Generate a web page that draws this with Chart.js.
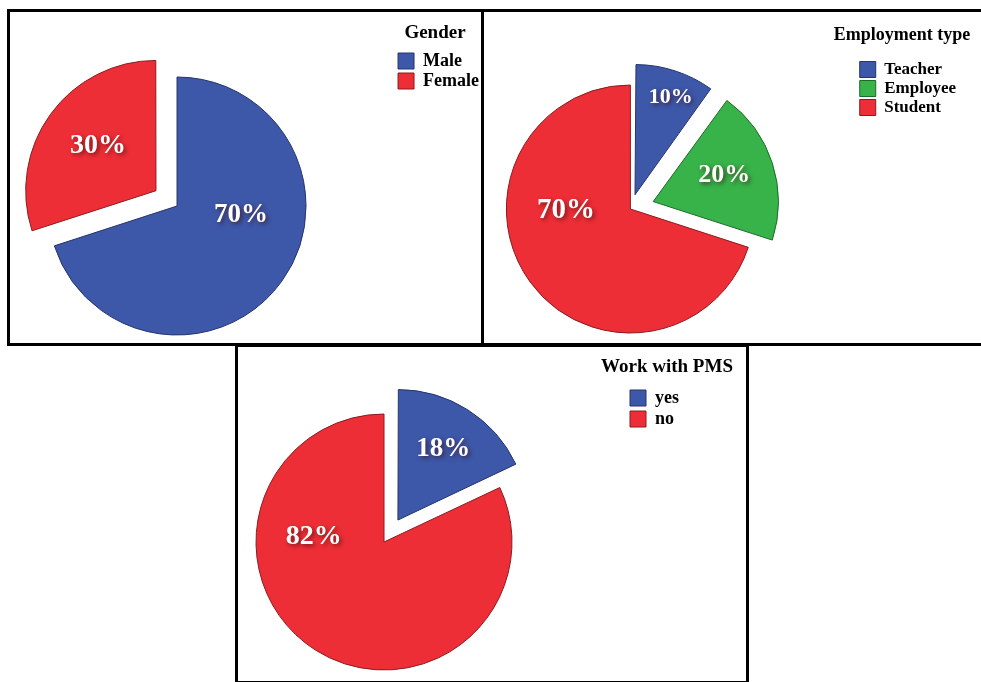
<!DOCTYPE html>
<html>
<head>
<meta charset="utf-8">
<script src="https://cdn.jsdelivr.net/npm/chart.js@4.4.1/dist/chart.umd.min.js"></script>
<style>
  html, body { margin: 0; padding: 0; background: #fff; width: 981px; height: 682px; overflow: hidden; }
  .panel { position: absolute; border: 3px solid #000; box-sizing: border-box; overflow: hidden; background: #fff; }
  .panel canvas { position: absolute; top: 0; }
  .heading { position: absolute; width: 200px; text-align: center; white-space: nowrap; color: #000;
             font-family: "Liberation Serif", "Times New Roman", serif; font-weight: bold; }
</style>
</head>
<body>
<div class="panel" style="left:7px;top:9px;width:477px;height:337px"><canvas id="gender" width="531" height="350" style="left:-52px"></canvas></div>
<div class="panel" style="left:481px;top:9px;width:503px;height:337px"><canvas id="employment" width="563" height="347" style="left:-81px"></canvas></div>
<div class="panel" style="left:235px;top:344px;width:514px;height:340px"><canvas id="pms" width="548" height="351" style="left:-97px"></canvas></div>
<div class="heading" style="left:335px;top:21px;font-size:19px;line-height:22px">Gender</div>
<div class="heading" style="left:802px;top:24px;font-size:18px;line-height:21px">Employment type</div>
<div class="heading" style="left:567px;top:355px;font-size:19px;line-height:22px">Work with PMS</div>
<script>
// values (percent)
const genderLabels = ['Male', 'Female'];
const genderValues = [70, 30];

const employmentLabels = ['Teacher', 'Employee', 'Student'];
const employmentValues = [10, 20, 70];

const pmsLabels = ['yes', 'no'];
const pmsValues = [18, 82];

const BLUE = '#3D57A9', BLUE_EDGE = '#26346A';
const RED = '#EE2E36', RED_EDGE = '#8A1B20';
const GREEN = '#37B34A', GREEN_EDGE = '#1D6A2A';
const SERIF = '"Liberation Serif", "Times New Roman", serif';

// white percent labels with a soft dark shadow, like the SPSS output
const pctLabels = {
  id: 'pctLabels',
  afterDatasetsDraw(chart, args, opts) {
    const ctx = chart.ctx;
    const meta = chart.getDatasetMeta(0);
    const values = chart.data.datasets[0].data;
    const total = values.reduce((a, b) => a + b, 0);
    meta.data.forEach((arc, i) => {
      const [shift, frac, size] = opts.place[i];
      const mid = (arc.startAngle + arc.endAngle) / 2;
      const push = (arc.options.offset || 0) / 4;
      const a = mid + shift * Math.PI / 180;
      const x = arc.x + Math.cos(mid) * push + Math.cos(a) * arc.outerRadius * frac;
      const y = arc.y + Math.sin(mid) * push + Math.sin(a) * arc.outerRadius * frac;
      ctx.save();
      ctx.font = 'bold ' + size + 'px ' + SERIF;
      ctx.textAlign = 'center';
      ctx.textBaseline = 'middle';
      ctx.shadowColor = 'rgba(60,10,10,0.65)';
      ctx.shadowBlur = 4;
      ctx.shadowOffsetX = 2;
      ctx.shadowOffsetY = 2;
      ctx.fillStyle = '#fff';
      ctx.fillText(Math.round(values[i] / total * 100) + '%', x, y);
      ctx.restore();
    });
  }
};

function makePie(id, labels, values, cfg) {
  return new Chart(document.getElementById(id), {
    type: 'pie',
    data: {
      labels: labels,
      datasets: [{
        data: values,
        backgroundColor: cfg.colors,
        borderColor: cfg.edges,
        borderWidth: 1,
        offset: cfg.offsets
      }]
    },
    options: {
      responsive: false,
      animation: false,
      radius: cfg.radius,
      layout: { padding: { top: cfg.legendTop } },
      plugins: {
        tooltip: { enabled: false },
        legend: {
          position: 'right',
          align: 'start',
          labels: {
            boxWidth: 16,
            boxHeight: 16,
            padding: cfg.itemGap,
            color: '#000',
            font: { family: SERIF, size: cfg.itemSize, weight: 'bold' }
          }
        },
        pctLabels: { place: cfg.place }
      }
    },
    plugins: [pctLabels]
  });
}

makePie('gender', genderLabels, genderValues, {
  colors: [BLUE, RED],
  edges: [BLUE_EDGE, RED_EDGE],
  offsets: [0, 104],
  radius: 129,
  itemSize: 18, itemGap: 2, legendTop: 38,
  place: [[-28, 0.50, 27], [2, 0.57, 28]]
});

makePie('employment', employmentLabels, employmentValues, {
  colors: [BLUE, GREEN, RED],
  edges: [BLUE_EDGE, GREEN_EDGE, RED_EDGE],
  offsets: [60, 96, 0],
  radius: 124,
  itemSize: 17, itemGap: 2, legendTop: 47,
  place: [[2, 0.84, 22], [-2, 0.61, 26], [35, 0.52, 29]]
});

makePie('pms', pmsLabels, pmsValues, {
  colors: [BLUE, RED],
  edges: [BLUE_EDGE, RED_EDGE],
  offsets: [104, 0],
  radius: 128,
  itemSize: 18, itemGap: 3, legendTop: 39,
  place: [[0, 0.66, 27], [62, 0.55, 28]]
});
</script>
</body>
</html>
